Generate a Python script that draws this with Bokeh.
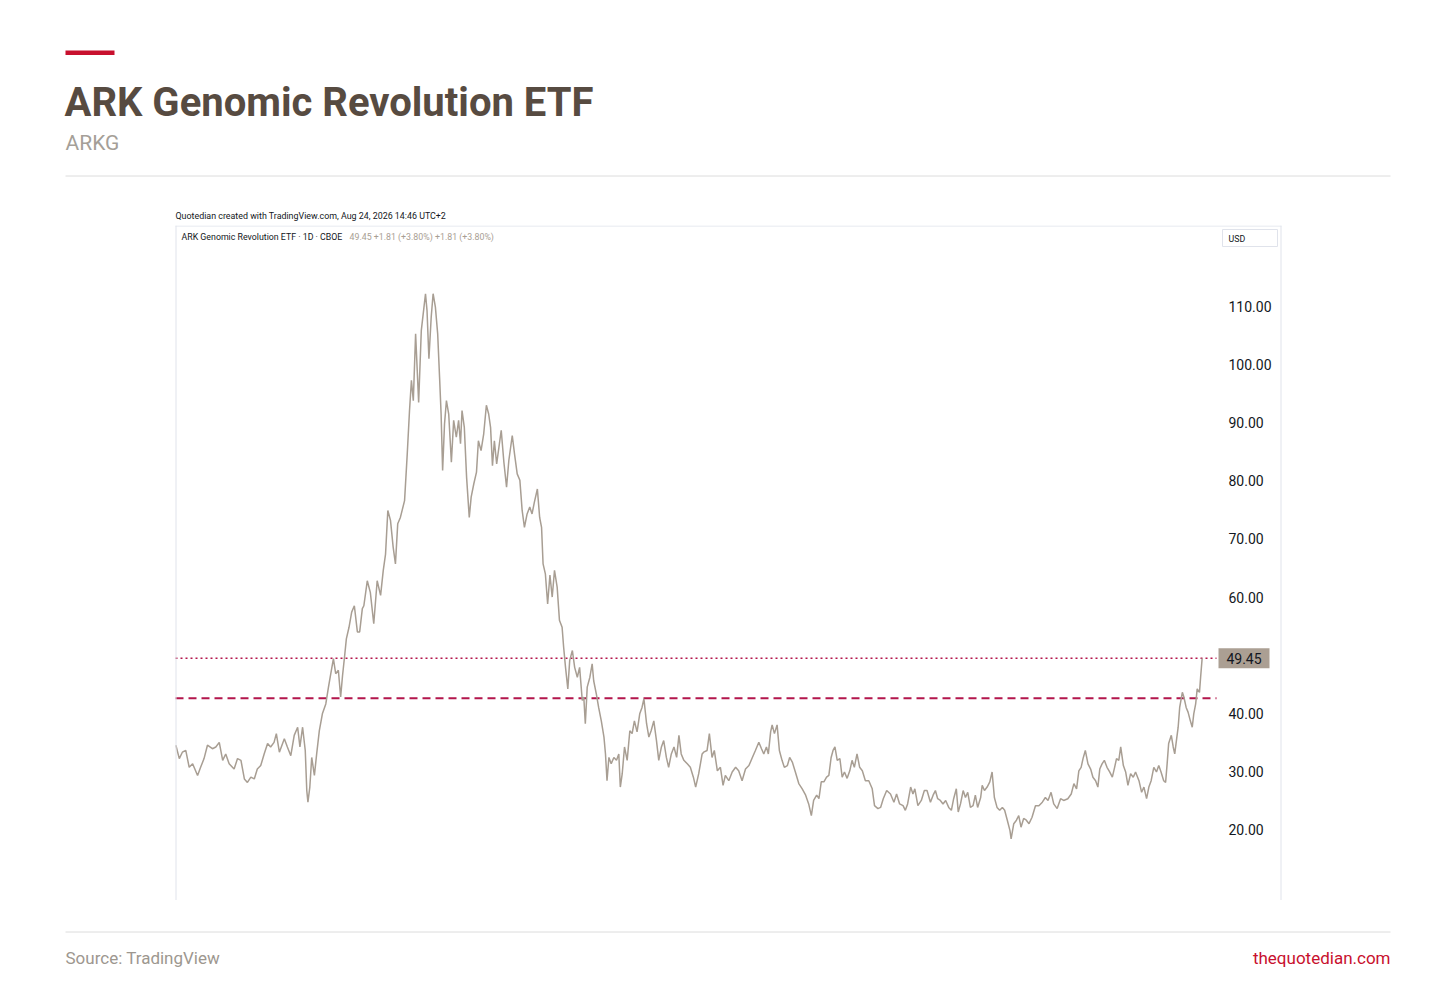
import pandas as pd
from bokeh.plotting import figure
from bokeh.models import Range1d, Span, ColumnDataSource
from bokeh.layouts import column
from bokeh.core.properties import value
from bokeh.embed import file_html
from bokeh.resources import INLINE

# ---------------- data ----------------
TITLE = "ARK Genomic Revolution ETF"
SUBTITLE = "ARKG"
CAPTION = "Quotedian created with TradingView.com, Aug 24, 2026 14:46 UTC+2"
LEGEND_NAME = "ARK Genomic Revolution ETF \u00b7 1D \u00b7 CBOE"
LEGEND_VALUES = "49.45  +1.81 (+3.80%)  +1.81 (+3.80%)"
SOURCE = "Source: TradingView"
SITE = "thequotedian.com"
CURRENCY = "USD"

START_DATE = "2019-04-08"
# calendar days since START_DATE
day_offset = [
    1, 10, 18, 27, 36, 45, 58, 66, 75, 84,
    97, 106, 115, 124, 132, 141, 154, 163, 172, 181,
    189, 198, 207, 215, 224, 233, 242, 250, 259, 265,
    273, 286, 294, 303, 312, 321, 327, 334, 341, 345,
    348, 353, 358, 365, 371, 378, 386, 395, 402, 408,
    415, 421, 428, 434, 439, 445, 449, 456, 463, 470,
    478, 484, 491, 495, 504, 512, 521, 530, 539, 546,
    552, 558, 565, 572, 578, 584, 591, 602, 609, 615,
    620, 625, 631, 639, 646, 653, 657, 661, 666, 672,
    677, 683, 689, 694, 698, 702, 707, 712, 718, 725,
    731, 738, 744, 749, 753, 759, 765, 772, 777, 784,
    791, 796, 803, 810, 817, 823, 828, 833, 838, 844,
    850, 856, 863, 870, 876, 885, 891, 898, 905, 911,
    917, 924, 931, 937, 943, 951, 957, 962, 966, 972,
    978, 984, 990, 996, 1003, 1009, 1016, 1020, 1025, 1031,
    1036, 1043, 1049, 1056, 1062, 1069, 1073, 1077, 1082, 1089,
    1095, 1099, 1106, 1112, 1119, 1126, 1130, 1134, 1139, 1145,
    1152, 1159, 1165, 1169, 1174, 1180, 1187, 1194, 1200, 1206,
    1213, 1220, 1226, 1231, 1238, 1244, 1250, 1257, 1264, 1270,
    1277, 1283, 1290, 1296, 1303, 1310, 1317, 1323, 1329, 1336,
    1345, 1353, 1361, 1367, 1375, 1384, 1388, 1397, 1403, 1410,
    1416, 1424, 1432, 1439, 1445, 1454, 1463, 1472, 1480, 1489,
    1498, 1507, 1516, 1524, 1533, 1540, 1546, 1553, 1558, 1564,
    1568, 1574, 1581, 1587, 1594, 1600, 1608, 1614, 1621, 1629,
    1638, 1647, 1656, 1664, 1671, 1677, 1685, 1691, 1697, 1704,
    1711, 1717, 1723, 1728, 1733, 1739, 1746, 1752, 1758, 1765,
    1772, 1778, 1784, 1791, 1798, 1805, 1813, 1822, 1831, 1837,
    1846, 1853, 1860, 1869, 1879, 1888, 1895, 1903, 1912, 1918,
    1924, 1932, 1938, 1943, 1951, 1960, 1968, 1975, 1984, 1991,
    1997, 2003, 2010, 2017, 2024, 2032, 2039, 2045, 2052, 2057,
    2063, 2070, 2076, 2082, 2089, 2096, 2102, 2108, 2116, 2120,
    2126, 2133, 2140, 2146, 2152, 2159, 2166, 2173, 2179, 2186,
    2193, 2196, 2203, 2210, 2216, 2222, 2229, 2236, 2243, 2251,
    2260, 2269, 2278, 2286, 2293, 2301, 2308, 2317, 2326, 2334,
    2345, 2354, 2361, 2368, 2374, 2380, 2385, 2391, 2398, 2405,
    2411, 2418, 2424, 2429, 2435, 2441, 2448, 2455, 2462, 2468,
    2473, 2479, 2484, 2491, 2497, 2503, 2510, 2517, 2523, 2532,
    2539, 2545, 2552, 2558, 2564, 2571, 2578, 2584, 2590, 2597,
    2602, 2606, 2610, 2617, 2622, 2626, 2631, 2635, 2639, 2646,
    2650, 2656, 2661, 2667, 2672, 2676, 2681, 2685, 2691, 2694, 2698,
]
price = [
    34.5, 32.2, 33.3, 33.6, 30.7, 31.3, 29.3, 30.7, 32.2, 34.5,
    33.9, 34.2, 35.0, 31.9, 33.0, 31.3, 30.4, 32.2, 31.9, 28.7,
    28.1, 29.0, 28.7, 30.4, 31.0, 33.0, 34.8, 34.2, 35.0, 36.5,
    33.3, 35.6, 34.2, 32.7, 36.2, 37.6, 34.2, 37.6, 33.6, 26.7,
    24.7, 27.3, 32.4, 29.3, 33.0, 37.0, 39.9, 41.6, 44.5, 46.8,
    49.4, 46.8, 47.4, 42.8, 46.5, 50.2, 52.8, 54.8, 57.4, 58.5,
    54.0, 54.0, 58.0, 58.5, 62.8, 60.8, 55.4, 62.8, 60.3, 64.6,
    67.4, 74.9, 73.2, 68.6, 65.7, 72.6, 73.7, 76.6, 84.6, 92.1,
    97.3, 93.8, 105.3, 93.5, 105.9, 109.9, 112.2, 109.3, 101.0, 108.2,
    112.2, 109.9, 105.3, 97.8, 91.5, 81.8, 89.8, 93.8, 91.5, 83.2,
    90.4, 87.5, 90.4, 86.4, 92.1, 89.2, 80.6, 73.7, 77.2, 79.5,
    81.5, 86.9, 85.2, 88.1, 93.0, 91.5, 89.2, 82.6, 86.9, 82.9,
    85.8, 88.7, 83.2, 78.9, 83.5, 87.8, 84.6, 81.2, 80.1, 74.9,
    72.0, 74.3, 75.5, 74.3, 76.3, 78.6, 73.7, 72.0, 65.7, 64.0,
    58.8, 63.8, 60.0, 64.6, 61.7, 56.0, 54.8, 51.4, 47.9, 44.2,
    49.1, 50.8, 47.9, 46.2, 47.9, 42.2, 42.8, 38.2, 44.5, 46.2,
    48.5, 45.6, 43.3, 41.0, 38.7, 35.9, 33.0, 28.4, 32.4, 31.3,
    32.4, 31.9, 33.0, 27.3, 29.6, 34.2, 31.9, 37.0, 36.5, 38.7,
    36.8, 39.9, 41.0, 42.5, 38.2, 35.9, 37.0, 38.7, 35.3, 31.9,
    34.2, 35.3, 32.4, 30.7, 33.0, 34.2, 32.4, 36.2, 33.0, 31.9,
    31.3, 30.7, 29.0, 27.3, 29.6, 33.0, 33.3, 33.6, 36.5, 32.4,
    33.6, 30.1, 30.7, 27.6, 29.3, 28.4, 29.9, 30.7, 30.1, 28.4,
    30.4, 31.0, 32.4, 33.6, 35.0, 33.9, 33.0, 34.2, 33.0, 36.8,
    38.0, 36.5, 38.0, 33.6, 31.9, 30.7, 31.0, 32.4, 31.6, 29.9,
    27.9, 27.0, 25.9, 24.4, 22.4, 25.0, 25.9, 25.3, 28.2, 28.2,
    29.0, 29.3, 32.4, 33.6, 34.2, 31.9, 32.2, 29.0, 29.9, 28.8,
    30.1, 31.9, 30.7, 33.0, 30.7, 30.1, 28.4, 28.4, 27.0, 24.1,
    23.6, 23.8, 25.3, 26.7, 26.1, 24.7, 26.1, 24.4, 24.1, 23.3,
    24.4, 27.3, 26.1, 27.0, 24.1, 25.0, 26.7, 26.7, 24.7, 25.9,
    26.7, 25.3, 25.0, 24.4, 25.0, 23.8, 23.3, 25.3, 27.0, 23.0,
    24.4, 26.7, 25.5, 26.4, 23.8, 24.1, 25.9, 23.8, 25.5, 27.6,
    26.7, 27.3, 28.2, 29.9, 25.5, 23.8, 23.3, 23.8, 23.3, 21.6,
    19.8, 18.4, 21.0, 21.6, 22.4, 20.4, 21.9, 21.6, 21.0, 22.1,
    24.1, 24.1, 24.7, 25.5, 25.0, 26.4, 24.4, 23.6, 25.3, 25.0,
    25.3, 26.1, 27.9, 27.0, 30.1, 30.7, 32.2, 33.6, 31.3, 30.4,
    29.0, 28.4, 27.3, 30.4, 31.3, 31.9, 30.7, 29.9, 29.0, 30.7,
    32.2, 31.9, 34.2, 31.0, 29.9, 27.6, 29.6, 29.0, 29.9, 28.4,
    26.4, 27.3, 25.3, 27.3, 28.4, 30.7, 29.9, 31.0, 29.9, 28.4,
    28.1, 31.3, 34.8, 36.2, 34.2, 33.0, 35.6, 37.6, 41.0, 43.6,
    42.8, 41.0, 40.2, 38.7, 37.6, 39.9, 41.6, 44.2, 43.6, 46.2, 49.45,
]
level_line = 42.6          # dashed horizontal level
y_ticks = [20, 30, 40, 60, 70, 80, 90, 100, 110]   # 50.00 sits behind the price tag
# ---------------------------------------

W = 1456
START = pd.Timestamp(START_DATE)
EPOCH = pd.Timestamp("1970-01-01")
DAYS_PER_PX = 2.628
BOX_LEFT, BOX_RIGHT, BOX_TOP = 175, 1281, 225
CH_TOP, CH_H = 225, 675
Y_MIN, Y_MAX = 7.78, 123.94
PX_PER_USD = CH_H / (Y_MAX - Y_MIN)


def t_at(px):
    """data x (ms) at a horizontal page position"""
    ts = START + pd.Timedelta(days=(px - BOX_LEFT) * DAYS_PER_PX)
    return (ts - EPOCH) / pd.Timedelta(milliseconds=1)


def p_at(py):
    """data y (price) at a vertical page position inside the chart band"""
    return Y_MAX - (py - CH_TOP) / PX_PER_USD


FONT = value("Roboto")
TV_TEXT = "#131722"
LINE_COL = "#a89e93"
RED = "#c8102e"
LEVEL_COL = "#b3164c"


def blank(fig):
    fig.outline_line_color = None
    fig.background_fill_color = "white"
    fig.border_fill_color = "white"


# ---------- header (page y 0..225) ----------
HDR_H = 225
hdr = figure(width=W, height=HDR_H, x_range=Range1d(0, W), y_range=Range1d(HDR_H, 0),
             x_axis_type=None, y_axis_type=None, toolbar_location=None,
             output_backend="svg", min_border=0)
blank(hdr)
hdr.quad(left=[65], right=[114], top=[50], bottom=[54.5], fill_color=RED, line_color=None)
hdr.text(x=[64], y=[102], text=[TITLE], text_font=FONT, text_font_style="bold",
         text_font_size="40px", text_color="#574b41", text_baseline="middle")
hdr.text(x=[65], y=[142.5], text=[SUBTITLE], text_font=FONT, text_font_size="21px",
         text_color="#a59f98", text_baseline="middle")
hdr.segment(x0=[65], x1=[1390], y0=[175.5], y1=[175.5], line_color="#dcdcdc", line_width=1)
hdr.text(x=[175], y=[215], text=[CAPTION], text_font=FONT, text_font_size="8.9px",
         text_color=TV_TEXT, text_baseline="middle")

# ---------- chart (page y 225..900) ----------
dates = (START + pd.to_timedelta(day_offset, unit="D")).to_numpy()
src = ColumnDataSource(dict(date=dates, price=price))
last_price = price[-1]

ch = figure(width=W, height=CH_H,
            x_range=Range1d(t_at(0), t_at(W)),
            y_range=Range1d(Y_MIN, Y_MAX),
            x_axis_type=None, y_axis_type=None, toolbar_location=None,
            output_backend="svg", min_border=0)
blank(ch)

border = "#e0e3eb"
ch.add_layout(Span(location=t_at(BOX_LEFT + 0.5), dimension="height", line_color=border, line_width=1))
ch.add_layout(Span(location=t_at(BOX_RIGHT - 0.5), dimension="height", line_color=border, line_width=1))
ch.segment(x0=[t_at(BOX_LEFT)], x1=[t_at(BOX_RIGHT)], y0=[p_at(BOX_TOP + 0.5)],
           y1=[p_at(BOX_TOP + 0.5)], line_color=border, line_width=1)

ch.segment(x0=[t_at(BOX_LEFT)], x1=[t_at(1216)], y0=[level_line], y1=[level_line],
           line_color=LEVEL_COL, line_width=2, line_dash="8 5")
ch.segment(x0=[t_at(BOX_LEFT)], x1=[t_at(1216)], y0=[last_price], y1=[last_price],
           line_color=LEVEL_COL, line_width=1.5, line_dash="2 3")

ch.line(x="date", y="price", source=src, line_color=LINE_COL, line_width=1.5)

# price scale labels
label_x = t_at(1228)
ch.text(x=[label_x] * len(y_ticks), y=y_ticks, text=[f"{t:.2f}" for t in y_ticks],
        text_font=FONT, text_font_size="14px", text_color=TV_TEXT,
        text_baseline="middle", text_align="left")

# last price tag
ch.rect(x=[t_at(1243.5)], y=[last_price], width=51, height=20,
        width_units="screen", height_units="screen", fill_color="#ab9f93", line_color=None)
ch.text(x=[t_at(1243.5)], y=[last_price], text=[f"{last_price:.2f}"], text_font=FONT,
        text_font_size="14px", text_color=TV_TEXT, text_baseline="middle", text_align="center")

# currency box
ch.rect(x=[t_at(1249.5)], y=[p_at(237.5)], width=55, height=17,
        width_units="screen", height_units="screen", fill_color="white", line_color=border)
ch.text(x=[t_at(1228)], y=[p_at(238)], text=[CURRENCY], text_font=FONT,
        text_font_size="8.8px", text_color=TV_TEXT, text_baseline="middle")

# legend
ch.text(x=[t_at(181)], y=[p_at(236)], text=[LEGEND_NAME], text_font=FONT,
        text_font_size="8.8px", text_color=TV_TEXT, text_baseline="middle")
ch.text(x=[t_at(349)], y=[p_at(236)], text=[LEGEND_VALUES], text_font=FONT,
        text_font_size="8.8px", text_color="#a89e93", text_baseline="middle")

# ---------- footer (page y 900..988) ----------
FTR_H = 88
ftr = figure(width=W, height=FTR_H, x_range=Range1d(0, W), y_range=Range1d(FTR_H, 0),
             x_axis_type=None, y_axis_type=None, toolbar_location=None,
             output_backend="svg", min_border=0)
blank(ftr)
ftr.segment(x0=[65], x1=[1390], y0=[31.5], y1=[31.5], line_color="#dcdcdc", line_width=1)
ftr.text(x=[65], y=[57], text=[SOURCE], text_font=FONT, text_font_size="17px",
         text_color="#9d978f", text_baseline="middle")
ftr.text(x=[1390], y=[57], text=[SITE], text_font=FONT, text_font_size="17px",
         text_color=RED, text_baseline="middle", text_align="right")

layout = column(hdr, ch, ftr, spacing=0)
open("out.html", "w").write(file_html(layout, INLINE))
